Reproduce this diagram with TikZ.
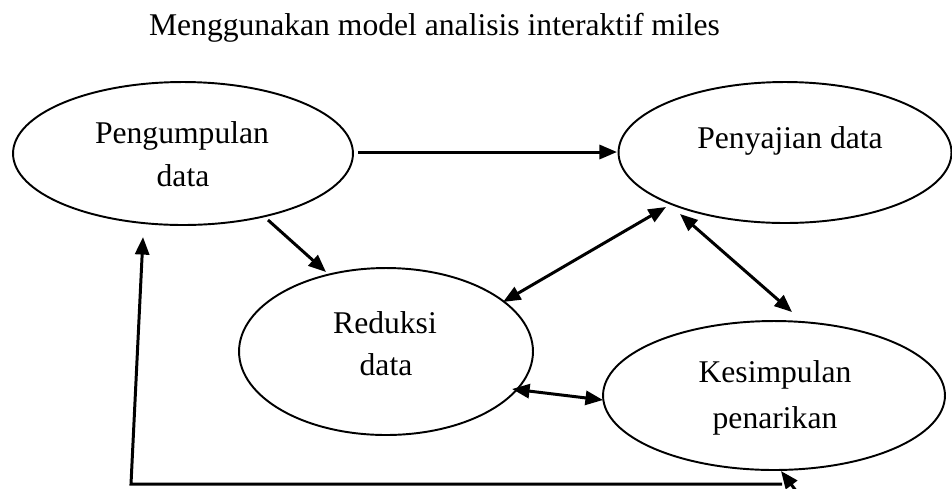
\documentclass[tikz,border=0pt]{standalone}
\usepackage{fontspec}
\setmainfont{Liberation Serif}
\usetikzlibrary{shapes.geometric,arrows.meta}
\tikzset{
  bub/.style={draw, ellipse, line width=1.1pt, inner sep=0pt},
  lbl/.style={anchor=base, inner sep=0pt, font=\fontsize{18}{22}\selectfont},
  arr/.style={line width=1.7pt, -{Triangle[length=10pt,width=8pt]}},
  darr/.style={line width=1.7pt, {Triangle[length=10pt,width=8pt]}-{Triangle[length=10pt,width=8pt]}},
}
\begin{document}
\begin{tikzpicture}[x=0.02cm,y=-0.02cm]
\clip (0,0) rectangle (952,488);
\fill[white] (0,0) rectangle (952,488);

% title
\node[lbl] (title) at (434.5,35) {Menggunakan model analisis interaktif miles};

% ellipses
\node[bub, minimum width=6.8cm, minimum height=2.86cm] (peng) at (183,153.5) {};
\node[bub, minimum width=6.66cm, minimum height=2.82cm] (peny) at (785,152.5) {};
\node[bub, minimum width=5.88cm, minimum height=3.34cm] (red) at (386,351.5) {};
\node[bub, minimum width=6.84cm, minimum height=2.98cm] (kes) at (774,395.5) {};

% texts
\node[lbl] (pengA) at (182,143) {Pengumpulan};
\node[lbl] (pengB) at (183,186) {data};
\node[lbl] (penyA) at (790,148) {Penyajian data};
\node[lbl] (redA) at (385,333) {Reduksi};
\node[lbl] (redB) at (386,375) {data};
\node[lbl] (kesA) at (775,382) {Kesimpulan};
\node[lbl] (kesB) at (775,428) {penarikan};

% connector end points
\coordinate (a1s) at (358,152);
\coordinate (a1e) at (617,152);
\coordinate (a2s) at (268,220);
\coordinate (a2e) at (326,272);
\coordinate (a3s) at (503,302);
\coordinate (a3e) at (666,207);
\coordinate (a4s) at (680,214);
\coordinate (a4e) at (792,312);
\coordinate (a5s) at (512,389);
\coordinate (a5e) at (603,400);
\coordinate (fbR) at (782,484);
\coordinate (fbL) at (131,484);
\coordinate (fbT) at (143,237);
\coordinate (stubS) at (800,496);
\coordinate (stubE) at (781,471);

% connectors
\draw[arr] (a1s) -- (a1e);
\draw[arr] (a2s) -- (a2e);
\draw[darr] (a3s) -- (a3e);
\draw[darr] (a4s) -- (a4e);
\draw[darr] (a5s) -- (a5e);
\draw[arr] (fbR) -- (fbL) -- (fbT);
\draw[arr] (stubS) -- (stubE);
\end{tikzpicture}
\end{document}
